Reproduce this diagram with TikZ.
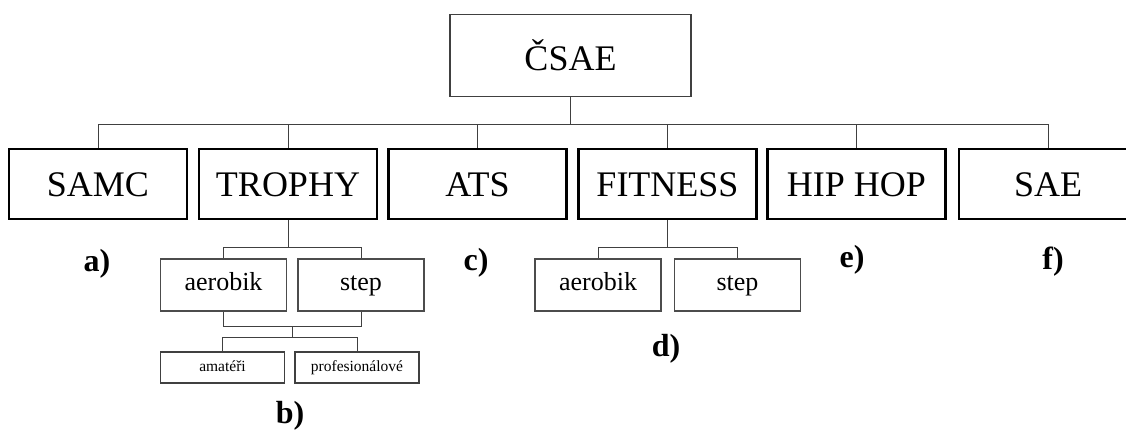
\documentclass[tikz,border=0pt]{standalone}
\usepackage{fontspec}
\setmainfont{Liberation Serif}
\usetikzlibrary{calc}
\tikzset{
  topbox/.style={draw=black!75, line width=1.2pt, minimum width=241pt, minimum height=82pt, inner sep=0pt, font=\fontsize{36}{36}\selectfont},
  lonebox/.style={draw=black, line width=2.2pt, minimum width=178pt, minimum height=70pt, inner sep=0pt, text height=24pt, text depth=0pt, font=\fontsize{36}{36}\selectfont},
  subbox/.style={draw=black!70, line width=1.2pt, minimum width=126pt, minimum height=52pt, inner sep=0pt, text height=16pt, text depth=5pt, font=\fontsize{26}{26}\selectfont},
  smallbox/.style={draw=black!75, line width=1.2pt, minimum width=124pt, minimum height=31pt, inner sep=0pt, text height=11pt, text depth=3pt, font=\fontsize{15.5}{15.5}\selectfont},
  lbl/.style={inner sep=0pt, text height=22pt, text depth=7pt, font=\fontsize{32}{32}\selectfont\bfseries},
  conn/.style={draw=black!75, line width=1pt}
}
\begin{document}
\begin{tikzpicture}[x=1pt,y=-1pt]
\useasboundingbox (0,0) rectangle (1126,433);
% top
\node[topbox] (csae) at (570.5,55.5) {ČSAE};
% level 1
\node[lonebox] (samc) at (98,184) {SAMC};
\node[lonebox] (trophy) at (288,184) {TROPHY};
\node[lonebox] (ats) at (477.5,184) {ATS};
\node[lonebox] (fit) at (667.5,184) {FITNESS};
\node[lonebox] (hip) at (856.5,184) {HIP HOP};
\node[lonebox] (sae) at (1048,184) {SAE};
% connectors level 0 -> 1
\path (csae.south) ++(0,27) coordinate (bus);
\draw[conn] (csae.south) -- (bus);
\foreach \n in {samc,trophy,ats,fit,hip,sae}{
  \draw[conn] (bus) -| (\n.north);
}
% trophy subtree
\node[subbox] (tA) at (223.5,285) {aerobik};
\node[subbox] (tS) at (361,285) {step};
\path (trophy.south) ++(0,27) coordinate (tb);
\draw[conn] (trophy.south) -- (tb);
\draw[conn] (tb) -| (tA.north);
\draw[conn] (tb) -| (tS.north);
\node[smallbox] (am) at (222.5,367.5) {amatéři};
\node[smallbox] (pr) at (357,367.5) {profesionálové};
\draw[conn] (tA.south) -- ++(0,15) -| (tS.south);
\coordinate (tm) at ($(tA.south)!0.5!(tS.south)+(0,15)$);
\path (tm) ++(0,11) coordinate (lb);
\draw[conn] (tm) -- (lb);
\draw[conn] (lb) -| (am.north);
\draw[conn] (lb) -| (pr.north);
% fitness subtree
\node[subbox] (fA) at (598,285) {aerobik};
\node[subbox] (fS) at (737.5,285) {step};
\path (fit.south) ++(0,27) coordinate (fb);
\draw[conn] (fit.south) -- (fb);
\draw[conn] (fb) -| (fA.north);
\draw[conn] (fb) -| (fS.north);
% labels
\node[lbl] (la) at (97,264) {a)};
\node[lbl] (lb2) at (290,416) {b)};
\node[lbl] (lc) at (476,263) {c)};
\node[lbl] (ld) at (666,349) {d)};
\node[lbl] (le) at (852,260) {e)};
\node[lbl] (lf) at (1053,262) {f)};
\end{tikzpicture}
\end{document}
